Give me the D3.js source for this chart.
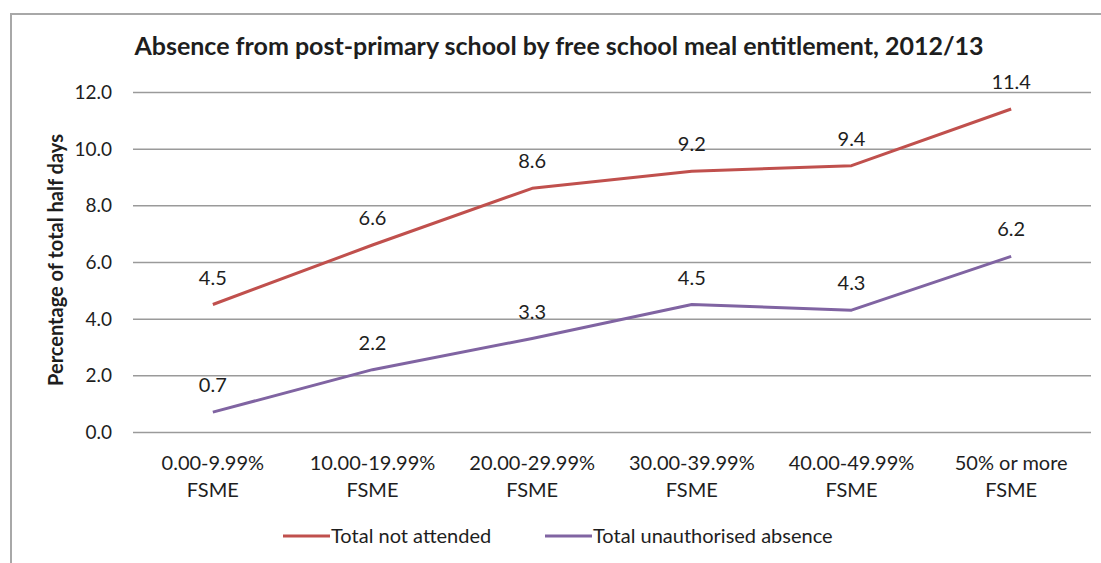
<!DOCTYPE html>
<html lang="en">
<head>
    <meta charset="UTF-8">
    <title>Absence by FSME</title>
    <script src="https://d3js.org/d3.v7.min.js"></script>
    <style>
        body { margin: 0; background: #ffffff; }
        svg text { font-family: Lato, "Open Sans", sans-serif; fill: #1e1e1e; }
        .grid line { stroke: #9a9a9a; stroke-width: 1.5px; }
        .grid path { display: none; }
        .ylab { font-size: 19px; }
        .xlab { font-size: 20px; }
        .val { font-size: 20px; }
        .series { fill: none; stroke-width: 3px; stroke-linejoin: round; }
    </style>
</head>
<body>
<svg id="canvas" width="1101" height="563"></svg>
<script>
    let categories = ["0.00-9.99%|FSME", "10.00-19.99%|FSME", "20.00-29.99%|FSME",
        "30.00-39.99%|FSME", "40.00-49.99%|FSME", "50% or more|FSME"]
    let notAttended = [4.5, 6.6, 8.6, 9.2, 9.4, 11.4]
    let unauthorised = [0.7, 2.2, 3.3, 4.5, 4.3, 6.2]
    let seriesNames = ["Total not attended", "Total unauthorised absence"]
    let yTicks = [0, 2, 4, 6, 8, 10, 12]

    let colors = ["#c0504d", "#8064a2"]
    let svg = d3.select("#canvas")
    let margin = {left: 133, right: 1091, top: 92, bottom: 432}

    // outer chart border
    svg.append("rect")
        .attr("x", 11).attr("y", 14)
        .attr("width", 1110).attr("height", 570)
        .attr("fill", "none").attr("stroke", "#a8a8a8").attr("stroke-width", 2)

    svg.append("text")
        .attr("x", 559).attr("y", 55)
        .attr("text-anchor", "middle")
        .style("font-size", "25px").style("font-weight", "bold")
        .text("Absence from post-primary school by free school meal entitlement, 2012/13")

    let xScale = d3.scaleBand().domain(categories).range([margin.left, margin.right])
    let yScale = d3.scaleLinear().domain([0, 12]).range([margin.bottom, margin.top])
    let cx = d => xScale(d) + xScale.bandwidth() / 2

    svg.append("g").attr("class", "grid")
        .attr("transform", `translate(${margin.left},0)`)
        .call(d3.axisLeft(yScale).tickValues(yTicks)
            .tickSize(-(margin.right - margin.left)).tickFormat(""))

    svg.append("g").selectAll("text")
        .data(yTicks).enter().append("text")
        .attr("class", "ylab")
        .attr("x", 112).attr("y", d => yScale(d) + 7)
        .attr("text-anchor", "end")
        .text(d => d3.format(".1f")(d))

    svg.append("text")
        .attr("transform", `translate(63,${(margin.top + margin.bottom) / 2 - 2}) rotate(-90)`)
        .attr("text-anchor", "middle")
        .style("font-size", "20px").style("font-weight", "bold")
        .text("Percentage of total half days")

    let xl = svg.append("g").selectAll("text")
        .data(categories).enter().append("text")
        .attr("class", "xlab")
        .attr("text-anchor", "middle")
        .attr("x", cx).attr("y", 470)
    xl.append("tspan").attr("x", cx).text(d => d.split("|")[0])
    xl.append("tspan").attr("x", cx).attr("dy", 27).text(d => d.split("|")[1])

    let line = d3.line()
        .x((d, i) => cx(categories[i]))
        .y(d => yScale(d))

    ;[notAttended, unauthorised].forEach(function (vals, k) {
        svg.append("path").attr("class", "series")
            .attr("d", line(vals)).attr("stroke", colors[k])
        svg.append("g").selectAll("text")
            .data(vals).enter().append("text")
            .attr("class", "val")
            .attr("text-anchor", "middle")
            .attr("x", (d, i) => cx(categories[i]))
            .attr("y", d => yScale(d) - 20)
            .text(d => d3.format(".1f")(d))
    })

    let legendX = [283, 545]
    seriesNames.forEach(function (name, k) {
        let g = svg.append("g").attr("transform", `translate(${legendX[k]},536)`)
        g.append("line").attr("x1", 0).attr("x2", 47).attr("y1", 0).attr("y2", 0)
            .attr("stroke", colors[k]).attr("stroke-width", 3)
        g.append("text").attr("x", 48).attr("y", 7)
            .style("font-size", "20px").text(name)
    })
</script>
</body>
</html>
